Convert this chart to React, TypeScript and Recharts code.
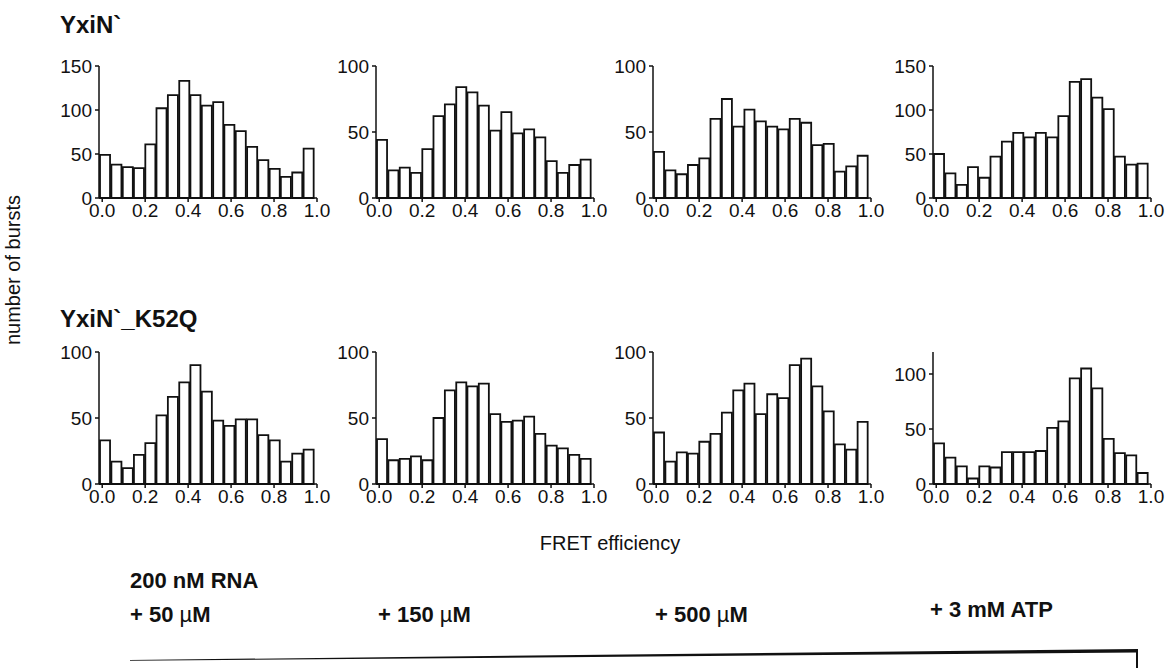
import { BarChart, Bar, XAxis, YAxis } from "recharts";

const FRET_BINS = [0.011, 0.064, 0.117, 0.169, 0.222, 0.274, 0.327, 0.38, 0.432, 0.485, 0.538, 0.59, 0.643, 0.696, 0.748, 0.801, 0.853, 0.906, 0.959];
const X_TICKS = [0, 0.2, 0.4, 0.6, 0.8, 1.0];

const YXIN_50 = [49, 38, 35, 34, 61, 102, 117, 133, 117, 105, 109, 83, 76, 58, 43, 33, 24, 29, 56];
const YXIN_150 = [44, 21, 23, 19, 37, 62, 71, 84, 80, 70, 51, 65, 49, 52, 46, 28, 19, 25, 29];
const YXIN_500 = [35, 21, 18, 25, 30, 60, 75, 54, 67, 58, 54, 52, 60, 57, 40, 41, 20, 24, 32];
const YXIN_ATP = [50, 28, 15, 35, 23, 47, 64, 74, 69, 74, 69, 93, 132, 135, 114, 101, 47, 38, 39];
const K52Q_50 = [33, 17, 12, 22, 31, 52, 66, 77, 90, 70, 48, 44, 49, 49, 37, 33, 17, 23, 26];
const K52Q_150 = [34, 18, 19, 21, 18, 50, 71, 77, 74, 76, 53, 47, 48, 51, 38, 29, 27, 22, 19];
const K52Q_500 = [39, 17, 24, 23, 32, 38, 54, 71, 76, 53, 68, 65, 90, 95, 74, 55, 30, 26, 47];
const K52Q_ATP = [37, 24, 16, 5, 16, 15, 29, 29, 29, 30, 51, 57, 96, 105, 87, 41, 28, 26, 10];

const CONDITIONS = ["+ 50 ", "+ 150 ", "+ 500 ", "+ 3 mM ATP"];

const FONT = "'Liberation Sans', Arial, Helvetica, sans-serif";
const NARROW = "'Liberation Sans Narrow', 'Arial Narrow', 'Liberation Sans', Arial, sans-serif";

const YW = 45;
const MT = 10;
const MR = 16;
const PLOT_W = 218;
const PLOT_H = 132;
const XH = 30;
const CHART_W = YW + PLOT_W + MR;
const CHART_H = MT + PLOT_H + XH;
const AXIS_X = [99, 376, 653, 933];

const panels = [
  { counts: YXIN_50, max: 150, ticks: [0, 50, 100, 150], row: 0, col: 0 },
  { counts: YXIN_150, max: 100, ticks: [0, 50, 100], row: 0, col: 1 },
  { counts: YXIN_500, max: 100, ticks: [0, 50, 100], row: 0, col: 2 },
  { counts: YXIN_ATP, max: 150, ticks: [0, 50, 100, 150], row: 0, col: 3 },
  { counts: K52Q_50, max: 100, ticks: [0, 50, 100], row: 1, col: 0 },
  { counts: K52Q_150, max: 100, ticks: [0, 50, 100], row: 1, col: 1 },
  { counts: K52Q_500, max: 100, ticks: [0, 50, 100], row: 1, col: 2 },
  { counts: K52Q_ATP, max: 120, ticks: [0, 50, 100], row: 1, col: 3 },
];

const ROW_TOP = [66, 352];

const tickStyle = { fill: "#111", fontSize: 19, fontFamily: FONT };

function Histogram({ counts, max, ticks }: { counts: number[]; max: number; ticks: number[] }) {
  const rows = FRET_BINS.map((e, i) => ({ e, n: counts[i] }));
  return (
    <BarChart
      width={CHART_W}
      height={CHART_H}
      data={rows}
      margin={{ top: MT, right: MR, left: 0, bottom: 0 }}
      barCategoryGap={0}
      barGap={0}
      style={{ overflow: "visible" }}
    >
      <XAxis
        type="number"
        dataKey="e"
        domain={[-0.015, 1.0]}
        ticks={X_TICKS}
        tickFormatter={(v: number) => v.toFixed(1)}
        height={XH}
        tickSize={4}
        tickMargin={2}
        interval={0}
        allowDataOverflow
        stroke="#111"
        strokeWidth={1.5}
        tick={tickStyle}
      />
      <YAxis
        type="number"
        domain={[0, max]}
        ticks={ticks}
        width={YW}
        tickSize={4}
        tickMargin={3}
        interval={0}
        stroke="#111"
        strokeWidth={1.5}
        tick={tickStyle}
      />
      <Bar dataKey="n" fill="#fff" stroke="#111" strokeWidth={1.8} barSize={11.3} isAnimationActive={false} />
    </BarChart>
  );
}

export default function App() {
  return (
    <div style={{ position: "fixed", left: 0, top: 0, width: 1169, height: 668, background: "#fff", overflow: "hidden" }}>
      {panels.map((p, i) => (
        <div
          key={i}
          style={{ position: "absolute", left: AXIS_X[p.col] - YW, top: ROW_TOP[p.row] - MT, width: CHART_W, height: CHART_H }}
        >
          <Histogram counts={p.counts} max={p.max} ticks={p.ticks} />
        </div>
      ))}
      <svg width={1169} height={668} style={{ position: "absolute", left: 0, top: 0, pointerEvents: "none" }}>
        <text x={60} y={33} fontFamily={FONT} fontWeight="bold" fontSize={24} fill="#111">YxiN`</text>
        <text x={60} y={327} fontFamily={FONT} fontWeight="bold" fontSize={24} fill="#111">YxiN`_K52Q</text>
        <text
          x={0}
          y={0}
          transform="translate(20,270) rotate(-90)"
          textAnchor="middle"
          fontFamily={FONT}
          fontSize={20}
          fill="#111"
        >
          number of bursts
        </text>
        <text x={610} y={550} textAnchor="middle" fontFamily={FONT} fontSize={20} fill="#111">FRET efficiency</text>
        <text x={130} y={588} fontFamily={NARROW} fontWeight="bold" fontSize={22} fill="#111">200 nM RNA</text>
        {CONDITIONS.map((c, i) => (
          <text
            key={c}
            x={[130, 378, 655, 930][i]}
            y={i === 3 ? 617 : 622}
            fontFamily={NARROW}
            fontWeight="bold"
            fontSize={22}
            fill="#111"
          >
            {c}
            {i < 3 && (
              <>
                <tspan fontWeight="normal">µ</tspan>M
              </>
            )}
          </text>
        ))}
        <polygon points="130,660 1137,649 1137,652.5 130,660.8" fill="#111" />
        <line x1={1137} y1={649} x2={1137} y2={668} stroke="#111" strokeWidth={2} />
      </svg>
    </div>
  );
}
